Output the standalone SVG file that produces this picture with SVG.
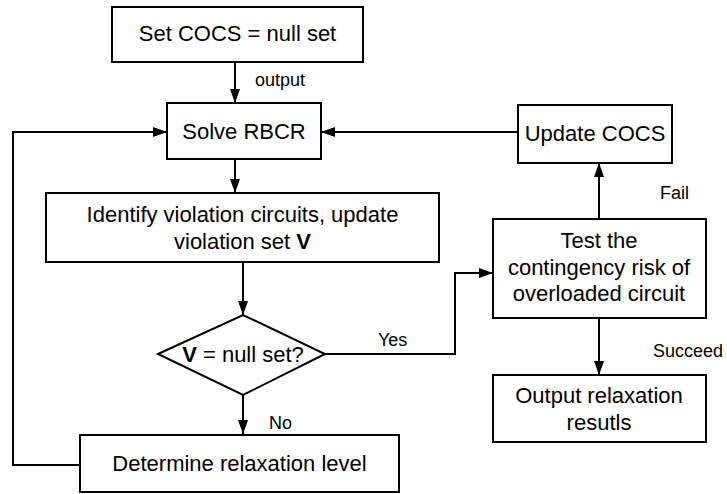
<svg xmlns="http://www.w3.org/2000/svg" width="727" height="494" viewBox="0 0 727 494">
  <defs>
    <marker id="arrow" viewBox="0 0 14 10" refX="14" refY="5" markerWidth="14" markerHeight="10" markerUnits="userSpaceOnUse" orient="auto">
      <path d="M0,0 L14,5 L0,10 Z" fill="#000"/>
    </marker>
    <style>
      .box { fill: #fff; stroke: #000; stroke-width: 2; }
      .edge { fill: none; stroke: #000; stroke-width: 2; }
      .t { font-family: "Liberation Sans", Arial, sans-serif; font-size: 22px; fill: #000; text-anchor: middle; }
      .lbl { font-family: "Liberation Sans", Arial, sans-serif; font-size: 18px; fill: #000; }
    </style>
  </defs>
  <rect width="727" height="494" fill="#fff"/>

  <g id="connectors">
    <path class="edge" d="M235,62 V103" marker-end="url(#arrow)"/>
    <path class="edge" d="M235,159 V193" marker-end="url(#arrow)"/>
    <path class="edge" d="M243,262 V315" marker-end="url(#arrow)"/>
    <path class="edge" d="M243,395 V434" marker-end="url(#arrow)"/>
    <path class="edge" d="M80,465 H13 V132 H167" marker-end="url(#arrow)"/>
    <path class="edge" d="M325,354 H455 V273 H493" marker-end="url(#arrow)"/>
    <path class="edge" d="M599,219 V163" marker-end="url(#arrow)"/>
    <path class="edge" d="M518,132 H321" marker-end="url(#arrow)"/>
    <path class="edge" d="M599,318 V375" marker-end="url(#arrow)"/>
    <text class="lbl" x="255" y="86">output</text>
    <text class="lbl" x="378" y="346">Yes</text>
    <text class="lbl" x="269" y="429">No</text>
    <text class="lbl" x="660" y="199">Fail</text>
    <text class="lbl" x="653" y="357">Succeed</text>
  </g>

  <g id="set-cocs">
    <rect class="box" x="112" y="7" width="251" height="55"/>
    <text class="t" x="237.5" y="41">Set COCS = null set</text>
  </g>

  <g id="solve-rbcr">
    <rect class="box" x="167" y="103" width="154" height="56"/>
    <text class="t" x="244" y="139">Solve RBCR</text>
  </g>

  <g id="identify">
    <rect class="box" x="46" y="193" width="393" height="69"/>
    <text class="t" x="242.5" y="222">Identify violation circuits, update</text>
    <text class="t" x="242.5" y="249">violation set <tspan font-weight="bold">V</tspan></text>
  </g>

  <g id="decision">
    <path class="box" d="M158,354 L243,315 L325,354 L243,395 Z"/>
    <text class="t" x="243" y="362"><tspan font-weight="bold">V</tspan> = null set?</text>
  </g>

  <g id="determine">
    <rect class="box" x="80" y="435" width="319" height="57"/>
    <text class="t" x="239.5" y="471">Determine relaxation level</text>
  </g>

  <g id="update-cocs">
    <rect class="box" x="518" y="105" width="154" height="58"/>
    <text class="t" x="595" y="141">Update COCS</text>
  </g>

  <g id="test">
    <rect class="box" x="493" y="219" width="213" height="99"/>
    <text class="t" x="599" y="248">Test the</text>
    <text class="t" x="599" y="275">contingency risk of</text>
    <text class="t" x="599" y="301">overloaded circuit</text>
  </g>

  <g id="output">
    <rect class="box" x="493" y="375" width="213" height="67"/>
    <text class="t" x="599" y="403">Output relaxation</text>
    <text class="t" x="599" y="430">resutls</text>
  </g>
</svg>
